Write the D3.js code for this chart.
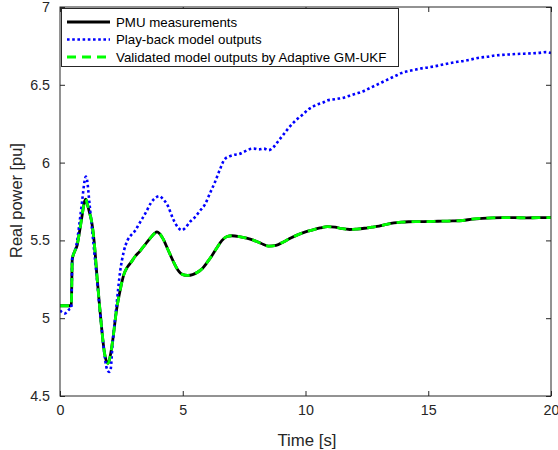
<!DOCTYPE html>
<html>
<head>
<meta charset="utf-8">
<script src="https://cdn.jsdelivr.net/npm/d3@7"></script>
<style>
  html, body { margin: 0; padding: 0; background: #fff; }
  svg { display: block; font-family: "Liberation Sans", Arial, sans-serif; }
</style>
</head>
<body>
<svg id="chart" width="558" height="450"></svg>
<script>
// Time axis (s) shared by the PMU record and the validated model run
const timeMeas = [0, 0.46, 0.5, 0.6, 0.7, 0.8, 0.9, 1.0, 1.05, 1.1, 1.2, 1.3, 1.4, 1.5, 1.6, 1.7, 1.8, 1.9, 1.96,
  2.05, 2.15, 2.3, 2.45, 2.6, 2.75, 2.9, 3.05, 3.25, 3.45, 3.65, 3.85, 3.95, 4.05, 4.2, 4.4, 4.6, 4.8, 5.0, 5.2,
  5.4, 5.6, 5.8, 6.0, 6.2, 6.4, 6.6, 6.8, 7.0, 7.3, 7.6, 7.9, 8.2, 8.5, 8.8, 9.1, 9.4, 9.7, 10.0, 10.3, 10.6,
  10.9, 11.2, 11.5, 11.8, 12.1, 12.4, 12.7, 13.0, 13.3, 13.6, 13.9, 14.2, 14.5, 14.8, 15.2, 15.6, 16.0, 16.4,
  16.8, 17.2, 17.6, 18.0, 18.5, 19.0, 19.5, 20];

// PMU measured real power (pu)
const pmuPower = [5.08, 5.08, 5.38, 5.43, 5.47, 5.56, 5.66, 5.75, 5.765, 5.74, 5.68, 5.61, 5.48, 5.28, 5.10, 4.93,
  4.79, 4.72, 4.71, 4.76, 4.86, 5.05, 5.18, 5.28, 5.33, 5.36, 5.395, 5.43, 5.47, 5.51, 5.545, 5.555, 5.545, 5.51,
  5.44, 5.37, 5.31, 5.28, 5.275, 5.28, 5.295, 5.32, 5.36, 5.405, 5.455, 5.50, 5.525, 5.53, 5.525, 5.515, 5.50,
  5.48, 5.463, 5.468, 5.49, 5.515, 5.537, 5.555, 5.568, 5.58, 5.588, 5.585, 5.575, 5.57, 5.573, 5.578, 5.585,
  5.592, 5.603, 5.612, 5.617, 5.62, 5.621, 5.621, 5.622, 5.624, 5.625, 5.628, 5.637, 5.642, 5.645, 5.646, 5.646,
  5.645, 5.646, 5.646];

// Model outputs after parameter calibration with the Adaptive GM-UKF
const validatedPower = [5.08, 5.08, 5.38, 5.43, 5.47, 5.56, 5.66, 5.75, 5.765, 5.74, 5.68, 5.61, 5.48, 5.28, 5.10,
  4.93, 4.79, 4.72, 4.71, 4.76, 4.86, 5.05, 5.18, 5.28, 5.33, 5.36, 5.395, 5.43, 5.47, 5.51, 5.545, 5.555, 5.545,
  5.51, 5.44, 5.37, 5.31, 5.28, 5.275, 5.28, 5.295, 5.32, 5.36, 5.405, 5.455, 5.50, 5.525, 5.53, 5.525, 5.515,
  5.50, 5.48, 5.463, 5.468, 5.49, 5.515, 5.537, 5.555, 5.568, 5.58, 5.588, 5.585, 5.575, 5.57, 5.573, 5.578,
  5.585, 5.592, 5.603, 5.612, 5.617, 5.62, 5.621, 5.621, 5.622, 5.624, 5.625, 5.628, 5.637, 5.642, 5.645, 5.646,
  5.646, 5.645, 5.646, 5.646];

// Play-back simulation with the original model parameters
const timePlayback = [0, 0.1, 0.2, 0.3, 0.4, 0.46, 0.5, 0.6, 0.7, 0.8, 0.9, 1.0, 1.05, 1.1, 1.2, 1.3, 1.4, 1.5, 1.6,
  1.7, 1.8, 1.9, 2.0, 2.05, 2.15, 2.3, 2.45, 2.6, 2.75, 2.9, 3.05, 3.2, 3.35, 3.5, 3.7, 3.9, 4.05, 4.2, 4.4, 4.6,
  4.8, 4.95, 5.1, 5.3, 5.5, 5.7, 5.9, 6.1, 6.3, 6.5, 6.7, 6.9, 7.1, 7.3, 7.5, 7.7, 7.9, 8.1, 8.3, 8.5, 8.7, 8.9,
  9.1, 9.3, 9.5, 9.7, 9.9, 10.1, 10.3, 10.5, 10.7, 10.9, 11.1, 11.3, 11.5, 11.7, 11.9, 12.1, 12.3, 12.5, 12.7,
  12.9, 13.1, 13.3, 13.5, 13.7, 13.9, 14.1, 14.4, 14.7, 15.0, 15.3, 15.6, 15.9, 16.2, 16.5, 16.8, 17.1, 17.4,
  17.7, 18.0, 18.3, 18.6, 18.9, 19.2, 19.5, 19.8, 20];
const playbackPower = [5.05, 5.035, 5.03, 5.045, 5.06, 5.065, 5.39, 5.43, 5.50, 5.62, 5.75, 5.88, 5.91, 5.89,
  5.74, 5.58, 5.42, 5.26, 5.09, 4.93, 4.78, 4.68, 4.655, 4.66, 4.85, 5.08, 5.30, 5.43, 5.50, 5.535, 5.56, 5.60,
  5.64, 5.68, 5.74, 5.775, 5.785, 5.765, 5.72, 5.64, 5.585, 5.565, 5.58, 5.62, 5.65, 5.69, 5.73, 5.80, 5.87,
  5.95, 6.02, 6.04, 6.05, 6.055, 6.07, 6.085, 6.09, 6.085, 6.09, 6.08, 6.10, 6.14, 6.18, 6.22, 6.255, 6.285,
  6.31, 6.34, 6.36, 6.375, 6.385, 6.40, 6.405, 6.41, 6.415, 6.425, 6.435, 6.445, 6.455, 6.47, 6.485, 6.50,
  6.515, 6.53, 6.545, 6.56, 6.575, 6.585, 6.595, 6.605, 6.612, 6.62, 6.63, 6.64, 6.648, 6.655, 6.665, 6.675,
  6.68, 6.688, 6.692, 6.695, 6.698, 6.70, 6.702, 6.705, 6.71, 6.705];

const xTicks = [0, 5, 10, 15, 20];
const yTicks = [4.5, 5, 5.5, 6, 6.5, 7];
const legendLabels = ["PMU measurements", "Play-back model outputs", "Validated model outputs by Adaptive GM-UKF"];

const svg = d3.select("#chart");
const axisColor = "#262626";
const plotLeft = 60, plotRight = 551, plotTop = 7, plotBottom = 396;

const x = d3.scaleLinear().domain([0, 20]).range([plotLeft, plotRight]);
const y = d3.scaleLinear().domain([4.5, 7]).range([plotBottom, plotTop]);

// Plot lines
const series = [
  { t: timeMeas, v: pmuPower, color: "#000000", width: 2.8, dash: null },
  { t: timePlayback, v: playbackPower, color: "#0000ff", width: 2.6, dash: "2.6,2.6" },
  { t: timeMeas, v: validatedPower, color: "#00ff00", width: 2.8, dash: "9,6" }
];
const line = d3.line().x(d => x(d[0])).y(d => y(d[1])).curve(d3.curveMonotoneX);

svg.append("defs").append("clipPath").attr("id", "plotClip")
  .append("rect").attr("x", plotLeft).attr("y", plotTop)
  .attr("width", plotRight - plotLeft).attr("height", plotBottom - plotTop);

const plot = svg.append("g").attr("clip-path", "url(#plotClip)");
series.forEach(s => {
  plot.append("path")
    .datum(s.t.map((t, i) => [t, s.v[i]]))
    .attr("fill", "none")
    .attr("stroke", s.color)
    .attr("stroke-width", s.width)
    .attr("stroke-dasharray", s.dash)
    .attr("stroke-linejoin", "round")
    .attr("d", line);
});

// Axes with inward ticks on all four sides
const tickLen = 5;
const axes = svg.append("g").attr("color", axisColor);
axes.append("g").attr("transform", `translate(0,${plotBottom})`)
  .call(d3.axisBottom(x).tickValues(xTicks).tickSizeInner(-tickLen).tickSizeOuter(0).tickPadding(9).tickFormat(d3.format("d")));
axes.append("g").attr("transform", `translate(0,${plotTop})`)
  .call(d3.axisTop(x).tickValues(xTicks).tickSizeInner(-tickLen).tickSizeOuter(0).tickFormat(""));
axes.append("g").attr("transform", `translate(${plotLeft},0)`)
  .call(d3.axisLeft(y).tickValues(yTicks).tickSizeInner(-tickLen).tickSizeOuter(0).tickPadding(10).tickFormat(d => String(d)));
axes.append("g").attr("transform", `translate(${plotRight},0)`)
  .call(d3.axisRight(y).tickValues(yTicks).tickSizeInner(-tickLen).tickSizeOuter(0).tickFormat(""));
axes.selectAll(".domain").remove();
axes.selectAll("text").attr("font-size", 14.3).attr("fill", axisColor)
  .attr("font-family", "'Liberation Sans', Arial, sans-serif");
axes.selectAll(".tick line").attr("stroke", axisColor);

svg.append("rect").attr("x", plotLeft).attr("y", plotTop)
  .attr("width", plotRight - plotLeft).attr("height", plotBottom - plotTop)
  .attr("fill", "none").attr("stroke", axisColor).attr("stroke-width", 1);

// Axis titles
svg.append("text").attr("x", 307).attr("y", 446).attr("text-anchor", "middle")
  .attr("font-size", 16.8).attr("fill", axisColor).text("Time [s]");
svg.append("text").attr("transform", `translate(22,200.5) rotate(-90)`)
  .attr("text-anchor", "middle").attr("font-size", 16.4).attr("fill", axisColor).text("Real power [pu]");

// Legend
const lg = svg.append("g");
lg.append("rect").attr("x", 61.5).attr("y", 8.5).attr("width", 337).attr("height", 58)
  .attr("fill", "#fff").attr("stroke", axisColor).attr("stroke-width", 1);
series.forEach((s, i) => {
  const yy = 22 + i * 17.5;
  lg.append("line").attr("x1", 67).attr("x2", 110).attr("y1", yy).attr("y2", yy)
    .attr("stroke", s.color).attr("stroke-width", s.width).attr("stroke-dasharray", s.dash);
  lg.append("text").attr("x", 116).attr("y", yy).attr("dy", "0.35em")
    .attr("font-size", 13.3).attr("fill", "#000").text(legendLabels[i]);
});
</script>
</body>
</html>
